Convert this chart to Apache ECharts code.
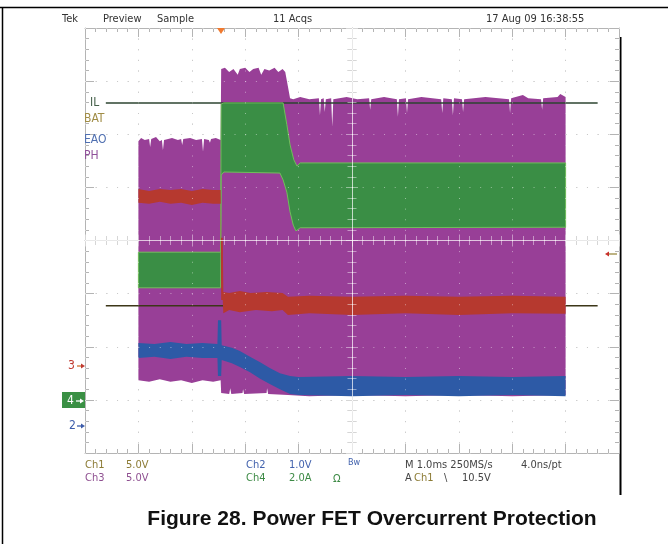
<!DOCTYPE html>
<html>
<head>
<meta charset="utf-8">
<title>Figure 28. Power FET Overcurrent Protection</title>
<script src="https://cdn.jsdelivr.net/npm/echarts@6/dist/echarts.min.js"></script>
<style>
  html, body { margin: 0; padding: 0; background: #fff; }
  #scope { width: 668px; height: 544px; }
</style>
</head>
<body>
<div id="scope"></div>
<script>
// scope screen: 10 x 8 divisions, 1.0ms/div, 0 = centre of screen
var xRange = [-5, 5];
var yRange = [-4, 4];

// Ch3 PH (switch node), upper and lower edge of the band, in divisions
var phTop = [[-4.00,1.87],[-3.95,1.93],[-3.88,1.89],[-3.80,1.91],[-3.78,1.76],[-3.76,1.91],[-3.67,1.95],[-3.60,1.87],
   [-3.56,1.89],[-3.54,1.70],[-3.52,1.89],[-3.37,1.93],[-3.26,1.89],[-3.20,1.91],[-3.18,1.80],[-3.16,1.91],[-3.03,1.93],
   [-2.92,1.89],[-2.81,1.91],[-2.79,1.67],[-2.77,1.91],[-2.68,1.89],[-2.66,1.84],[-2.64,1.91],[-2.55,1.93],[-2.46,1.89],
   [-2.45,3.23],[-2.38,3.25],[-2.30,3.17],[-2.22,3.23],[-2.14,3.12],[-2.10,3.23],[-2.00,3.25],[-1.92,3.17],[-1.85,3.23],
   [-1.75,3.25],[-1.70,3.12],[-1.64,3.23],[-1.55,3.20],[-1.45,3.25],[-1.38,3.17],[-1.30,3.23],[-1.25,3.17],
   [-1.20,2.90],[-1.16,2.68],[-1.10,2.66],[-0.97,2.70],[-0.80,2.66],[-0.62,2.68],[-0.60,2.36],[-0.58,2.66],[-0.53,2.68],
   [-0.51,2.42],[-0.49,2.66],[-0.39,2.68],[-0.37,2.14],[-0.35,2.66],[-0.10,2.70],[0.10,2.66],[0.32,2.68],[0.34,2.46],
   [0.36,2.66],[0.60,2.70],[0.84,2.66],[0.86,2.33],[0.88,2.66],[1.01,2.68],[1.03,2.40],[1.05,2.66],[1.30,2.70],[1.67,2.66],
   [1.69,2.40],[1.71,2.68],[1.87,2.66],[1.89,2.36],[1.91,2.68],[2.06,2.66],[2.08,2.42],[2.10,2.66],[2.50,2.70],[2.94,2.66],
   [2.96,2.40],[2.98,2.68],[3.20,2.74],[3.30,2.68],[3.54,2.66],[3.56,2.46],[3.58,2.68],[3.85,2.70],[3.90,2.76],[4.00,2.70]];
var phBottom = [[-4.00,-2.63],[-3.80,-2.66],[-3.60,-2.61],[-3.40,-2.66],[-3.20,-2.63],[-3.00,-2.68],[-2.80,-2.63],
   [-2.60,-2.66],[-2.46,-2.63],[-2.45,-2.87],[-2.30,-2.89],[-2.28,-2.78],[-2.26,-2.89],[-2.05,-2.87],[-2.04,-2.80],
   [-2.02,-2.89],[-1.60,-2.87],[-1.59,-2.78],[-1.57,-2.89],[-1.20,-2.91],[-0.80,-2.93],[0.00,-2.91],[1.00,-2.93],
   [2.00,-2.91],[3.00,-2.93],[4.00,-2.91]];

// Ch4 IL (inductor current)
var ilTop = [[-4.00,-0.22],[-2.46,-0.22],[-2.45,2.57],[-2.40,2.59],[-1.29,2.59],[-1.22,2.18],[-1.16,1.80],[-1.09,1.52],
   [-1.03,1.40],[-0.97,1.46],[4.00,1.46]];
var ilBottom = [[-4.00,-0.89],[-2.46,-0.89],[-2.45,1.23],[-2.40,1.29],[-1.35,1.27],[-1.29,1.14],[-1.22,0.91],[-1.16,0.54],
   [-1.10,0.29],[-1.05,0.18],[-0.97,0.24],[4.00,0.25]];

// Ch1 BAT
var batTop = [[-4.00,0.97],[-3.80,0.93],[-3.60,0.97],[-3.40,0.95],[-3.20,0.97],[-3.00,0.93],[-2.80,0.97],[-2.60,0.95],
   [-2.46,0.95],[-2.45,0.05],[-2.42,0.05],[-2.41,-0.97],[-2.30,-0.99],[-2.10,-0.95],[-1.90,-0.99],[-1.60,-0.97],
   [-1.30,-0.99],[-1.20,-1.06],[-0.80,-1.04],[0.00,-1.06],[1.00,-1.04],[2.00,-1.06],[3.00,-1.04],[4.00,-1.06]];
var batBottom = [[-4.00,0.71],[-3.80,0.69],[-3.60,0.73],[-3.40,0.69],[-3.20,0.71],[-3.00,0.67],[-2.80,0.71],[-2.60,0.69],
   [-2.46,0.69],[-2.45,-1.12],[-2.42,-1.12],[-2.41,-1.37],[-2.30,-1.31],[-2.10,-1.35],[-1.80,-1.31],[-1.50,-1.33],
   [-1.30,-1.31],[-1.20,-1.40],[-0.80,-1.37],[0.00,-1.40],[1.00,-1.37],[2.00,-1.40],[3.00,-1.37],[4.00,-1.38]];

// Ch2 EAO
var eaoTop = [[-4.00,-1.93],[-3.70,-1.95],[-3.40,-1.91],[-3.10,-1.95],[-2.80,-1.93],[-2.52,-1.95],[-2.51,-1.50],
   [-2.45,-1.50],[-2.44,-1.97],[-2.25,-2.02],[-2.10,-2.08],[-1.91,-2.19],[-1.72,-2.29],[-1.54,-2.40],[-1.35,-2.50],
   [-1.16,-2.55],[-1.00,-2.57],[0.00,-2.55],[1.00,-2.57],[2.00,-2.55],[3.00,-2.57],[4.00,-2.55]];
var eaoBottom = [[-4.00,-2.21],[-3.70,-2.19],[-3.40,-2.23],[-3.10,-2.19],[-2.80,-2.21],[-2.52,-2.21],[-2.51,-2.55],
   [-2.45,-2.55],[-2.44,-2.25],[-2.25,-2.31],[-2.10,-2.38],[-1.91,-2.48],[-1.72,-2.60],[-1.54,-2.70],[-1.35,-2.80],
   [-1.16,-2.89],[-1.00,-2.91],[0.00,-2.93],[1.00,-2.91],[2.00,-2.93],[3.00,-2.91],[4.00,-2.93]];

// reference levels drawn across the screen
var ilLevel = 2.59;
var batLevel = -1.23;
var levelSpan = [-4.61, 4.60];

var chart = echarts.init(document.getElementById('scope'), null, { renderer: 'canvas' });

var grey = '#b4b4b4';
var dotGrey = '#9c9c9c';
var glow = 'rgba(255,255,255,0.45)'; // graticule shows through the traces
var scopeFont = '"Liberation Sans Narrow", "DejaVu Sans Condensed", sans-serif';

/* one filled band (upper edge forward, lower edge back) */
function band(name, top, bottom, color, z, edge) {
   var outline = top.concat(bottom.slice().reverse());
   return {
      type: 'custom',
      name: name,
      z: z,
      silent: true,
      animation: false,
      data: outline,
      renderItem: function (params, api) {
         if (params.dataIndex !== 0) return null;
         var pts = outline.map(function (p) { return api.coord(p); });
         return {
            type: 'polygon',
            shape: { points: pts },
            style: { fill: color, stroke: edge || null, lineWidth: edge ? 1 : 0 }
         };
      }
   };
}

function level(name, v, color) {
   return {
      type: 'line', name: name, z: 3, silent: true, animation: false,
      symbol: 'none',
      data: [[levelSpan[0], v], [levelSpan[1], v]],
      lineStyle: { color: color, width: 1.5 }
   };
}

/* border axes: ticks pointing into the screen, dotted graticule */
function borderAxis(range, pos, split, dash) {
   return {
      type: 'value', min: range[0], max: range[1], interval: 1, position: pos, z: 0,
      axisLine: { show: true, onZero: false, lineStyle: { color: grey, width: 1 } },
      axisTick: { show: true, inside: true, length: 9, lineStyle: { color: grey } },
      minorTick: { show: true, splitNumber: 5, length: 4, lineStyle: { color: grey } },
      axisLabel: { show: false },
      splitLine: { show: split, lineStyle: { color: dotGrey, width: 1, type: [1, dash] } }
   };
}

/* same dots again, light, on top of the traces */
function glowDots(range, pos, dash) {
   return {
      type: 'value', min: range[0], max: range[1], interval: 1, position: pos, z: 12,
      axisLine: { show: false, onZero: false },
      axisTick: { show: false },
      axisLabel: { show: false },
      splitLine: { show: true, lineStyle: { color: glow, width: 1, type: [1, dash] } }
   };
}

/* centre cross: two axes each so the ticks go both ways */
function crossAxis(range, pos, inside, color, z) {
   return {
      type: 'value', min: range[0], max: range[1], interval: 1, position: pos, z: z,
      axisLine: { show: true, onZero: true, onZeroAxisIndex: 0, lineStyle: { color: color, width: 1 } },
      axisTick: { show: true, inside: inside, length: 6, lineStyle: { color: color } },
      minorTick: { show: true, splitNumber: 5, length: 4.5, lineStyle: { color: color } },
      axisLabel: { show: false },
      splitLine: { show: false }
   };
}

function txt(x, y, s, color, size, extra) {
   var el = {
      type: 'text', x: x, y: y, silent: true, z: 20,
      style: {
         text: s, fill: color, fontSize: size || 11, fontFamily: scopeFont,
         align: 'left', verticalAlign: 'middle', textAlign: 'left', textVerticalAlign: 'middle'
      }
   };
   if (extra) { for (var k in extra) el.style[k] = extra[k]; }
   return el;
}

function arrow(x1, x2, y, color, headColor) {
   // head sits at x2
   var d = x2 > x1 ? -1 : 1;
   return [
      { type: 'line', silent: true, z: 20, shape: { x1: x1, y1: y, x2: x2 + d * 3, y2: y }, style: { stroke: color, lineWidth: 1.3 } },
      { type: 'polygon', silent: true, z: 20, shape: { points: [[x2, y], [x2 + d * 4, y - 2.5], [x2 + d * 4, y + 2.5]] },
        style: { fill: headColor || color } }
   ];
}

var graphics = [
   // page frame
   { type: 'line', silent: true, shape: { x1: 0, y1: 7.5, x2: 668, y2: 7.5 }, style: { stroke: '#000', lineWidth: 1.5 } },
   { type: 'line', silent: true, shape: { x1: 2.5, y1: 7, x2: 2.5, y2: 544 }, style: { stroke: '#000', lineWidth: 1.5 } },
   { type: 'line', silent: true, shape: { x1: 620.5, y1: 37, x2: 620.5, y2: 495 }, style: { stroke: '#000', lineWidth: 2 } },

   // header
   txt(62, 19, 'Tek', '#333'),
   txt(103, 19, 'Preview', '#333'),
   txt(157, 19, 'Sample', '#333'),
   txt(273, 19, '11 Acqs', '#333'),
   txt(486, 19, '17 Aug 09 16:38:55', '#333'),

   // trigger position
   { type: 'polygon', silent: true, z: 20, shape: { points: [[217, 28], [225, 28], [221, 34]] }, style: { fill: '#f07a30' } },

   // trace names
   txt(90, 103, 'IL', '#45604a', 12),
   txt(84, 119, 'BAT', '#a08c45', 12),
   txt(84, 140, 'EAO', '#4f6fb0', 12),
   txt(84, 156, 'PH', '#90509a', 12),

   // channel ground markers
   txt(68, 366, '3', '#c03a30', 12),
   txt(69, 426, '2', '#3c5caa', 12),
   { type: 'rect', silent: true, z: 19, shape: { x: 62, y: 392, width: 23, height: 16 }, style: { fill: '#3a9044' } },
   txt(67, 401, '4', '#ffffff', 12),

   // footer
   txt(85, 465, 'Ch1', '#8c7b35'),
   txt(126, 465, '5.0V', '#8c7b35'),
   txt(85, 478, 'Ch3', '#8e4f90'),
   txt(126, 478, '5.0V', '#8e4f90'),
   txt(246, 465, 'Ch2', '#4262ad'),
   txt(289, 465, '1.0V', '#4262ad'),
   txt(246, 478, 'Ch4', '#3d8a45'),
   txt(289, 478, '2.0A', '#3d8a45'),
   txt(333, 479, 'Ω', '#3d8a45'),
   txt(348, 463, 'Bw', '#4262ad', 9),
   txt(405, 465, 'M 1.0ms 250MS/s', '#444'),
   txt(521, 465, '4.0ns/pt', '#444'),
   txt(405, 478, 'A', '#444'),
   txt(414, 478, 'Ch1', '#8c7b35'),
   txt(444, 478, '\\', '#444'),
   txt(462, 478, '10.5V', '#444'),

   // caption
   { type: 'text', x: 372, y: 519, silent: true,
     style: { text: 'Figure 28. Power FET Overcurrent Protection', fill: '#111',
              fontSize: 21, fontWeight: 'bold', fontFamily: '"Liberation Sans", Arial, sans-serif',
              align: 'center', verticalAlign: 'middle', textAlign: 'center', textVerticalAlign: 'middle' } }
];
graphics = graphics.concat(
   arrow(77, 85, 366, '#d0702f', '#c03a30'),
   arrow(76, 84, 401, '#ffffff'),
   arrow(77, 85, 426, '#3c5caa'),
   arrow(617, 605, 254, '#9a8a40', '#c8302a')
);

var option = {
   animation: false,
   backgroundColor: '#fff',
   grid: { left: 85, top: 28, width: 534, height: 425, containLabel: false },
   xAxis: [
      borderAxis(xRange, 'bottom', true, 9.625),
      borderAxis(xRange, 'top', false, 9.625),
      crossAxis(xRange, 'bottom', true, grey, 0),
      crossAxis(xRange, 'bottom', false, grey, 0),
      glowDots(xRange, 'bottom', 9.625),
      crossAxis(xRange, 'bottom', true, glow, 12),
      crossAxis(xRange, 'bottom', false, glow, 12)
   ],
   yAxis: [
      borderAxis(yRange, 'left', true, 9.68),
      borderAxis(yRange, 'right', false, 9.68),
      crossAxis(yRange, 'left', true, grey, 0),
      crossAxis(yRange, 'left', false, grey, 0),
      glowDots(yRange, 'left', 9.68),
      crossAxis(yRange, 'left', true, glow, 12),
      crossAxis(yRange, 'left', false, glow, 12)
   ],
   graphic: graphics,
   series: [
      band('PH', phTop, phBottom, '#983f97', 2),
      level('IL level', ilLevel, '#2c4430'),
      level('BAT level', batLevel, '#3c3618'),
      band('IL', ilTop, ilBottom, '#3a8e45', 4, '#6fbf5a'),
      band('BAT', batTop, batBottom, '#b6392f', 5),
      band('EAO', eaoTop, eaoBottom, '#2d5aa6', 6)
   ]
};

chart.setOption(option);
</script>
</body>
</html>
